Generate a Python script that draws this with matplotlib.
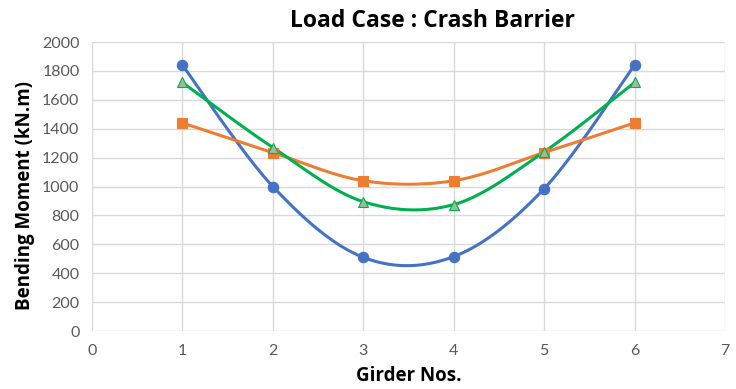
import numpy as np
import matplotlib
matplotlib.use("Agg")
import matplotlib.pyplot as plt

girders = [1, 2, 3, 4, 5, 6]
series_blue = [1840, 1000, 510, 515, 985, 1840]
series_orange = [1440, 1235, 1040, 1040, 1235, 1440]
series_green = [1720, 1270, 895, 875, 1240, 1720]
x_ticks = [0, 1, 2, 3, 4, 5, 6, 7]
y_ticks = list(range(0, 2001, 200))


def smooth(xs, ys, n=40):
    # Excel-like smoothing: cubic Bezier with Catmull-Rom control points
    xs = np.asarray(xs, float)
    ys = np.asarray(ys, float)
    P = np.column_stack([xs, ys])
    out = []
    for i in range(len(P) - 1):
        p0 = P[i - 1] if i > 0 else P[i]
        p1 = P[i]
        p2 = P[i + 1]
        p3 = P[i + 2] if i + 2 < len(P) else P[i + 1]
        c1 = p1 + (p2 - p0) / 6.0
        c2 = p2 - (p3 - p1) / 6.0
        t = np.linspace(0, 1, n)[:, None]
        seg = ((1 - t) ** 3) * p1 + 3 * ((1 - t) ** 2) * t * c1 + 3 * (1 - t) * t ** 2 * c2 + t ** 3 * p2
        out.append(seg if i == 0 else seg[1:])
    arr = np.vstack(out)
    return arr[:, 0], arr[:, 1]


plt.rcParams['font.family'] = ['Lato', 'DejaVu Sans']
fig = plt.figure(figsize=(7.36, 3.89), dpi=100)
ax = fig.add_axes([0.125, 0.149, 0.86, 0.743])

specs = [
    (series_blue, '#4472C4', 'o', '#4472C4', '#4472C4', 7.5),
    (series_orange, '#ED7D31', 's', '#ED7D31', '#ED7D31', 6.5),
    (series_green, '#00B050', '^', '#9DBB9A', '#00B050', 7.5),
]
for ys, col, mk, mfc, mec, ms in specs:
    sx, sy = smooth(girders, ys)
    ax.plot(sx, sy, color=col, lw=2.2, zorder=3)
    ax.plot(girders, ys, linestyle='none', marker=mk, markersize=ms,
            markerfacecolor=mfc, markeredgecolor=mec, markeredgewidth=0.8, zorder=4)

ax.set_xlim(0, 7)
ax.set_ylim(0, 2000)
ax.set_xticks(x_ticks)
ax.set_yticks(y_ticks)
ax.grid(True, color='#d9d9d9', lw=1.0)
ax.set_axisbelow(True)
for s in ax.spines.values():
    s.set_visible(False)
ax.tick_params(length=0, labelsize=11.5, colors='#595959', pad=9)

bold = dict(family=['Open Sans', 'DejaVu Sans'], fontweight='bold', color='black')
ax.set_xlabel('Girder Nos.', fontsize=13.5, labelpad=6, **bold)
ax.set_ylabel('Bending Moment (kN.m)', fontsize=13.5, labelpad=5, **bold)
ax.yaxis.label.set_y(0.47)
fig.text(0.588, 0.945, 'Load Case : Crash Barrier', ha='center', va='center',
         fontsize=16.5, **bold)

fig.savefig('out.png', dpi=100, facecolor='white')
